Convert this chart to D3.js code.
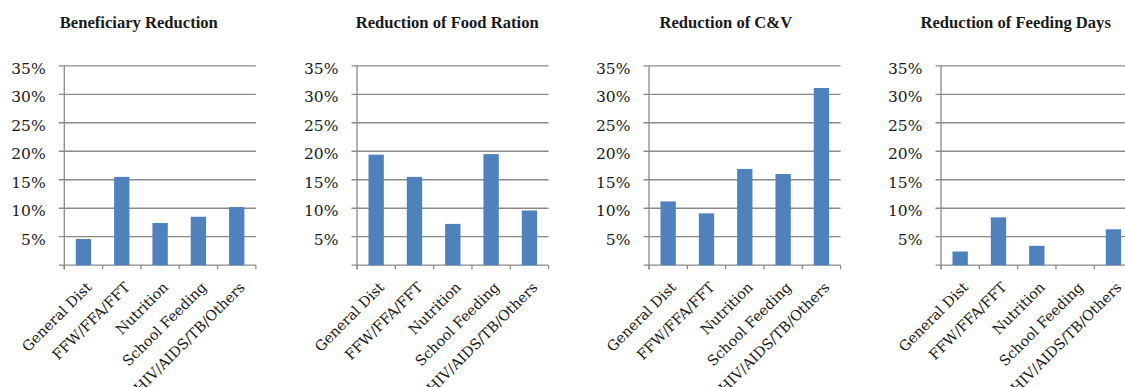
<!DOCTYPE html>
<html>
<head>
<meta charset="utf-8">
<script src="https://cdn.jsdelivr.net/npm/d3@7"></script>
<style>
  html, body { margin: 0; padding: 0; background: #fff; }
  svg { display: block; }
</style>
</head>
<body>
<svg id="chart" width="1125" height="387"></svg>
<script>
// Programme categories shared by every panel
const categories = ["General Dist", "FFW/FFA/FFT", "Nutrition", "School Feeding", "HIV/AIDS/TB/Others"];

// Reduction shares (%) per programme, one array per panel
const beneficiaryReduction = [4.6, 15.5, 7.4, 8.5, 10.2];
const foodRationReduction  = [19.4, 15.5, 7.25, 19.5, 9.6];
const cvReduction          = [11.2, 9.1, 16.9, 16.0, 31.1];
const feedingDaysReduction = [2.4, 8.4, 3.4, 0, 6.3];

const panelTitles = ["Beneficiary Reduction", "Reduction of Food Ration", "Reduction of C&V", "Reduction of Feeding Days"];
const panelValues = [beneficiaryReduction, foodRationReduction, cvReduction, feedingDaysReduction];

// Value axis ticks (%)
const yTicks = [0, 5, 10, 15, 20, 25, 30, 35];
const yTickLabels = ["", "5%", "10%", "15%", "20%", "25%", "30%", "35%"];

// Panel geometry
const plotLefts = [64.3, 357, 649, 941];
const titleCenters = [138.8, 447.2, 725.8, 1015.7];
const plotWidth = 191.6;
const plotTop = 65.8;
const plotBottom = 265.2;

const gridColor = "#8a8a8a";
const barColor = "#4f81bd";
const textColor = "#1a1a1a";

const svg = d3.select("#chart");
svg.append("rect").attr("width", 1125).attr("height", 387).attr("fill", "#fff");

const y = d3.scaleLinear().domain([0, 35]).range([plotBottom, plotTop]);

panelValues.forEach((values, p) => {
  const left = plotLefts[p];
  const g = svg.append("g").attr("transform", `translate(${left},0)`);

  const x = d3.scaleBand().domain(categories).range([0, plotWidth])
    .paddingInner(0.6).paddingOuter(0.3);
  const step = x.step();

  // Title
  svg.append("text")
    .attr("x", titleCenters[p]).attr("y", 28.3)
    .attr("text-anchor", "middle")
    .attr("font-family", "'Liberation Serif', serif")
    .attr("font-weight", "bold")
    .attr("font-size", 16.6)
    .attr("fill", textColor)
    .text(panelTitles[p]);

  // Horizontal gridlines (extend left as tick marks)
  g.selectAll("line.grid").data(yTicks).join("line")
    .attr("class", "grid")
    .attr("x1", -5.5).attr("x2", plotWidth)
    .attr("y1", d => y(d)).attr("y2", d => y(d))
    .attr("stroke", gridColor).attr("stroke-width", 1.3);

  // Value axis line
  g.append("line")
    .attr("x1", 0).attr("x2", 0)
    .attr("y1", plotTop).attr("y2", plotBottom + 4)
    .attr("stroke", gridColor).attr("stroke-width", 1.3);

  // Category boundary ticks
  g.selectAll("line.xtick").data(d3.range(categories.length + 1)).join("line")
    .attr("class", "xtick")
    .attr("x1", i => i * step).attr("x2", i => i * step)
    .attr("y1", plotBottom).attr("y2", plotBottom + 4)
    .attr("stroke", gridColor).attr("stroke-width", 1.3);

  // Bars
  g.selectAll("rect.bar").data(categories.map((c, i) => ({ c, v: values[i] }))).join("rect")
    .attr("class", "bar")
    .attr("x", d => x(d.c))
    .attr("width", x.bandwidth())
    .attr("y", d => y(d.v))
    .attr("height", d => y(0) - y(d.v))
    .attr("fill", barColor);

  // Value axis labels
  g.selectAll("text.ylab").data(yTicks).join("text")
    .attr("class", "ylab")
    .attr("x", -18.6)
    .attr("y", d => y(d) + 8)
    .attr("text-anchor", "end")
    .attr("font-family", "'DejaVu Serif', serif")
    .attr("font-size", 15.5)
    .attr("fill", textColor)
    .text((d, i) => yTickLabels[i]);

  // Rotated category labels
  g.selectAll("text.xlab").data(categories).join("text")
    .attr("class", "xlab")
    .attr("text-anchor", "end")
    .attr("font-family", "'DejaVu Serif', serif")
    .attr("font-size", 14.3)
    .attr("fill", textColor)
    .attr("transform", d => `translate(${x(d) + x.bandwidth() / 2 + 9},${plotBottom + 23}) rotate(-45)`)
    .text(d => d);
});
</script>
</body>
</html>
